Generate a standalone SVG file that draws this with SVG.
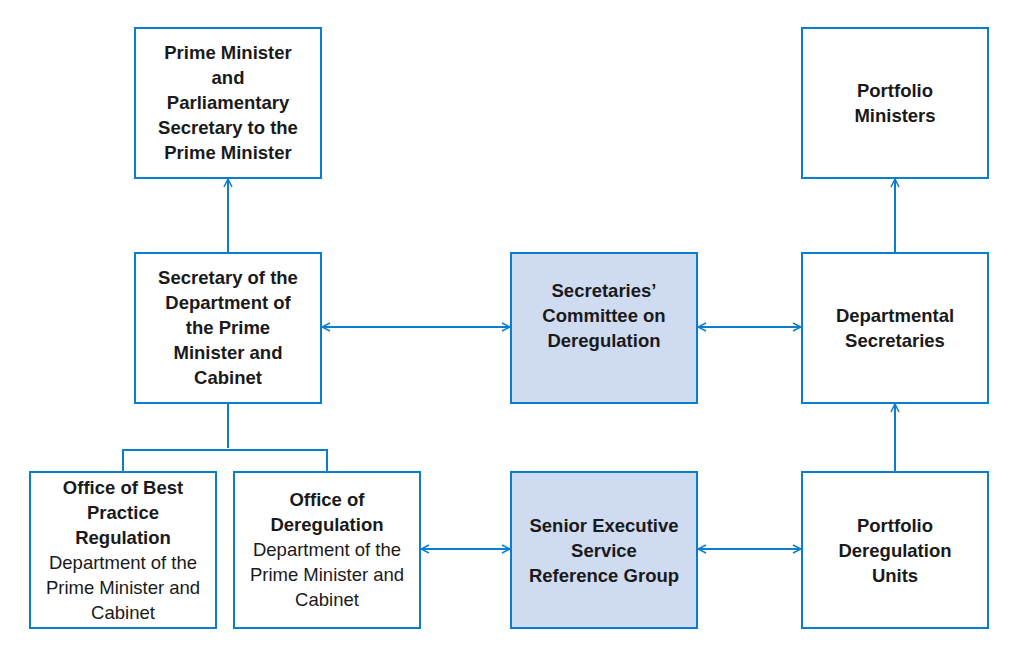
<svg xmlns="http://www.w3.org/2000/svg" width="1018" height="657" viewBox="0 0 1018 657">
<style>
.b{fill:#fff;stroke:#0a7dcf;stroke-width:2}
.s{fill:#cfdbf0;stroke:#0a7dcf;stroke-width:2}
.c{fill:none;stroke:#0a7dcf;stroke-width:2}
text{font-family:"Liberation Sans",Arial,sans-serif;font-size:18.5px;fill:#1a1a1a;text-anchor:middle}
.t{font-weight:bold}
</style>
<defs><marker id="a" viewBox="0 0 10 10" refX="9" refY="5" markerWidth="10" markerHeight="10" markerUnits="userSpaceOnUse" orient="auto-start-reverse"><path d="M1,1 L9,5 L1,9" fill="none" stroke="#0a7dcf" stroke-width="1.5"/></marker></defs>
<rect width="1018" height="657" fill="#fff"/>
<g id="connectors" class="c">
<path d="M228,253V179" marker-end="url(#a)"/>
<path d="M322,327H510" marker-start="url(#a)" marker-end="url(#a)"/>
<path d="M698,327H801" marker-start="url(#a)" marker-end="url(#a)"/>
<path d="M895,253V179" marker-end="url(#a)"/>
<path d="M895,472V404" marker-end="url(#a)"/>
<path d="M421,549H510" marker-start="url(#a)" marker-end="url(#a)"/>
<path d="M698,549H801" marker-start="url(#a)" marker-end="url(#a)"/>
<path d="M228,403V448M123,472V450H327V472"/>
</g>
<g id="pm"><rect class="b" x="135" y="28" width="186" height="150"/><text class="t" x="228" y="59">Prime Minister<tspan x="228" dy="25">and</tspan><tspan x="228" dy="25">Parliamentary</tspan><tspan x="228" dy="25">Secretary to the</tspan><tspan x="228" dy="25">Prime Minister</tspan></text></g>
<g id="secpmc"><rect class="b" x="135" y="253" width="186" height="150"/><text class="t" x="228" y="284">Secretary of the<tspan x="228" dy="25">Department of</tspan><tspan x="228" dy="25">the Prime</tspan><tspan x="228" dy="25">Minister and</tspan><tspan x="228" dy="25">Cabinet</tspan></text></g>
<g id="committee"><rect class="s" x="511" y="253" width="186" height="150"/><text class="t" x="604" y="297">Secretaries’<tspan x="604" dy="25">Committee on</tspan><tspan x="604" dy="25">Deregulation</tspan></text></g>
<g id="deptsecs"><rect class="b" x="802" y="253" width="186" height="150"/><text class="t" x="895" y="322">Departmental<tspan x="895" dy="25">Secretaries</tspan></text></g>
<g id="ministers"><rect class="b" x="802" y="28" width="186" height="150"/><text class="t" x="895" y="97">Portfolio<tspan x="895" dy="25">Ministers</tspan></text></g>
<g id="obpr"><rect class="b" x="30" y="472" width="186" height="156"/><text x="123" y="494"><tspan class="t">Office of Best</tspan><tspan class="t" x="123" dy="25">Practice</tspan><tspan class="t" x="123" dy="25">Regulation</tspan><tspan x="123" dy="25">Department of the</tspan><tspan x="123" dy="25">Prime Minister and</tspan><tspan x="123" dy="25">Cabinet</tspan></text></g>
<g id="ood"><rect class="b" x="234" y="472" width="186" height="156"/><text x="327" y="506"><tspan class="t">Office of</tspan><tspan class="t" x="327" dy="25">Deregulation</tspan><tspan x="327" dy="25">Department of the</tspan><tspan x="327" dy="25">Prime Minister and</tspan><tspan x="327" dy="25">Cabinet</tspan></text></g>
<g id="sesrg"><rect class="s" x="511" y="472" width="186" height="156"/><text class="t" x="604" y="532">Senior Executive<tspan x="604" dy="25">Service</tspan><tspan x="604" dy="25">Reference Group</tspan></text></g>
<g id="pdu"><rect class="b" x="802" y="472" width="186" height="156"/><text class="t" x="895" y="532">Portfolio<tspan x="895" dy="25">Deregulation</tspan><tspan x="895" dy="25">Units</tspan></text></g>
</svg>
